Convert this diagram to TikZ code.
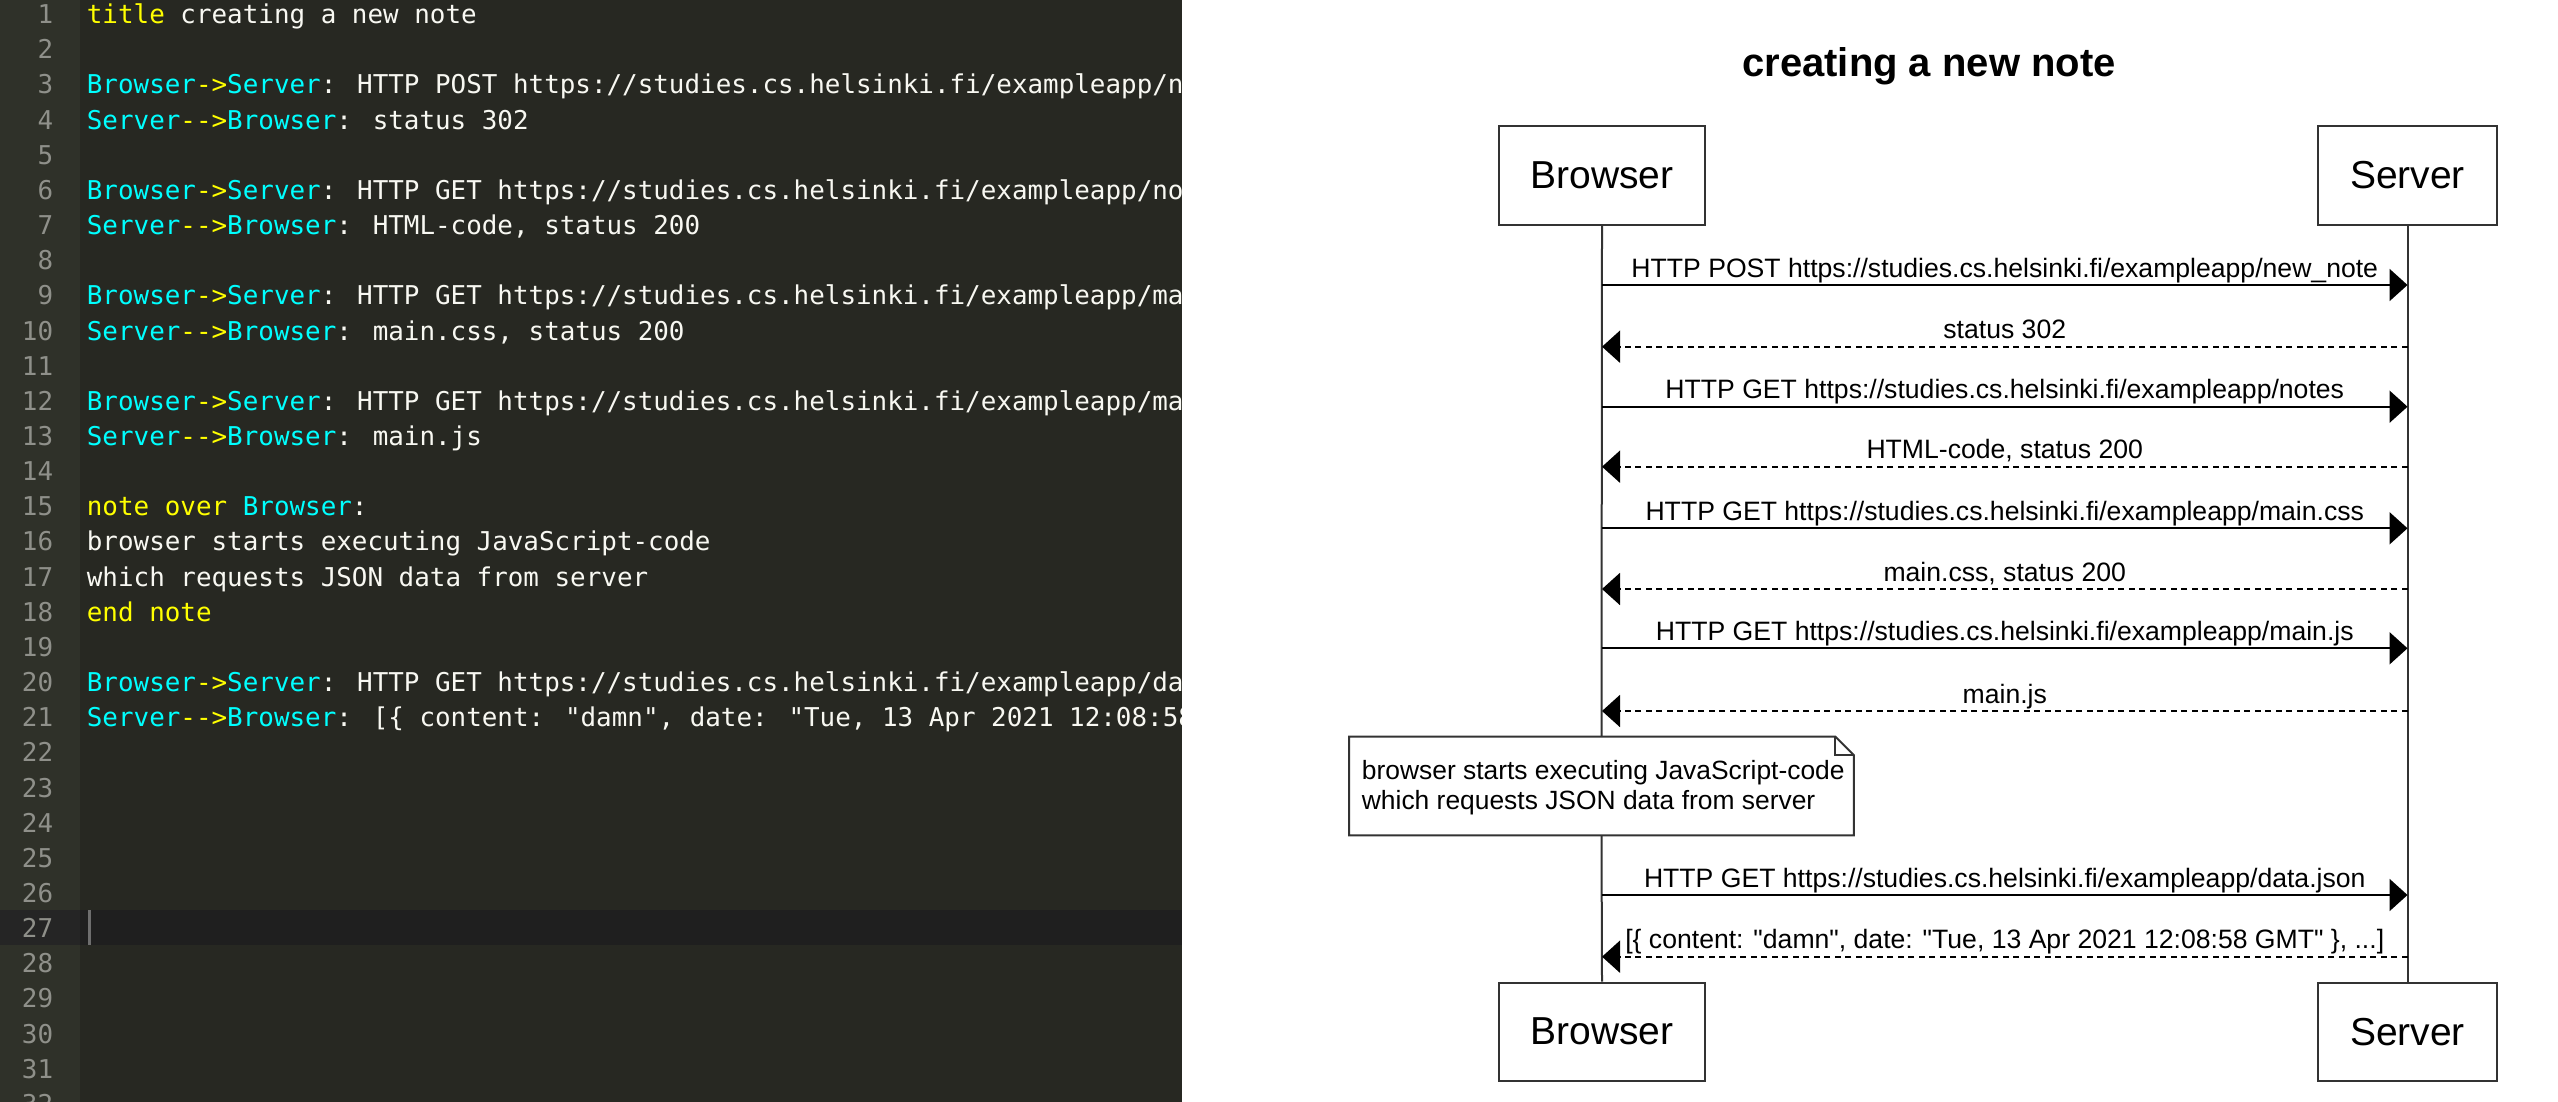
\documentclass[tikz,border=0pt]{standalone}
\usepackage{fontspec}
\usetikzlibrary{arrows.meta}
\newfontfamily\monof{DejaVu Sans Mono}[Ligatures=TeXOff]
\newfontfamily\arialf{Liberation Sans}
\definecolor{edbg}{HTML}{272822}
\definecolor{gutbg}{HTML}{2F3129}
\definecolor{curbg}{HTML}{1F1F1F}
\definecolor{curgut}{HTML}{252525}
\definecolor{lnum}{HTML}{8F908A}
\definecolor{txtw}{HTML}{F8F8F2}
\definecolor{kwyel}{HTML}{FFFF00}
\definecolor{accyan}{HTML}{00FFFF}
\definecolor{boxc}{HTML}{333333}
\definecolor{cursorc}{HTML}{6E6E6E}
\newcommand\KW[1]{\textcolor{kwyel}{#1}}
\newcommand\AC[1]{\textcolor{accyan}{#1}}
\newcommand\codeln[2]{\node[code] (cl#1) at (86.5,{23.7+35.15*(#1-1)}) {#2};}
\begin{document}
\begin{tikzpicture}[x=0.5pt,y=-0.5pt,
  code/.style={font=\monof\fontsize{12.95}{15}\selectfont, text=txtw, anchor=base west, inner sep=0pt},
  lno/.style={font=\monof\fontsize{12.95}{15}\selectfont, text=lnum, anchor=base east, inner sep=0pt},
  actor/.style={draw=boxc, line width=1pt, fill=white, minimum height=49pt, inner sep=0pt,
    font=\arialf\fontsize{19.5}{22}\selectfont},
  life/.style={draw=boxc, line width=1pt},
  msg/.style={draw=black, line width=1pt, -{Triangle[length=9pt,width=16pt]}},
  reply/.style={msg, dash pattern=on 3pt off 2.25pt},
  lbl/.style={font=\arialf\fontsize{13.3}{15}\selectfont, anchor=base, inner sep=0pt, midway, yshift=4pt},
  notetxt/.style={font=\arialf\fontsize{13.2}{15}\selectfont, align=left, inner sep=0pt, anchor=west},
  titletxt/.style={font=\arialf\bfseries\fontsize{20}{24}\selectfont, anchor=base, inner sep=0pt}
]
\useasboundingbox (0,0) rectangle (2558,1102);
\begin{scope}
\clip (0,0) rectangle (2558,1102);
% ---------- editor panel ----------
\fill[edbg] (0,0) rectangle (1182,1102);
\fill[gutbg] (0,0) rectangle (80,1102);
\fill[curbg] (80,910) rectangle (1182,945);
\fill[curgut] (0,910) rectangle (80,945);
\fill[cursorc] (87.5,910) rectangle (90.5,945);
\foreach \n in {1,...,32} {
  \node[lno] (ln\n) at (53.5,{23.7+35.15*(\n-1)}) {\n};
}
\begin{scope}
\clip (80,0) rectangle (1182,1102);
\codeln{1}{\KW{title} creating a new note}
\codeln{3}{\AC{Browser}\KW{->}\AC{Server}: HTTP POST https://studies.cs.helsinki.fi/exampleapp/new\_note}
\codeln{4}{\AC{Server}\KW{-->}\AC{Browser}: status 302}
\codeln{6}{\AC{Browser}\KW{->}\AC{Server}: HTTP GET https://studies.cs.helsinki.fi/exampleapp/notes}
\codeln{7}{\AC{Server}\KW{-->}\AC{Browser}: HTML-code, status 200}
\codeln{9}{\AC{Browser}\KW{->}\AC{Server}: HTTP GET https://studies.cs.helsinki.fi/exampleapp/main.css}
\codeln{10}{\AC{Server}\KW{-->}\AC{Browser}: main.css, status 200}
\codeln{12}{\AC{Browser}\KW{->}\AC{Server}: HTTP GET https://studies.cs.helsinki.fi/exampleapp/main.js}
\codeln{13}{\AC{Server}\KW{-->}\AC{Browser}: main.js}
\codeln{15}{\KW{note over} \AC{Browser}:}
\codeln{16}{browser starts executing JavaScript-code}
\codeln{17}{which requests JSON data from server}
\codeln{18}{\KW{end note}}
\codeln{20}{\AC{Browser}\KW{->}\AC{Server}: HTTP GET https://studies.cs.helsinki.fi/exampleapp/data.json}
\codeln{21}{\AC{Server}\KW{-->}\AC{Browser}: [\{ content: "damn", date: "Tue, 13 Apr 2021 12:08:58 GMT" \}, ...]}
\end{scope}
% ---------- diagram panel ----------
\fill[white] (1182,0) rectangle (2558,1102);
\node[titletxt] (title) at (1929,77) {creating a new note};
\node[actor, minimum width=103pt] (bt) at (1602,175.5) {Browser};
\node[actor, minimum width=89.5pt] (st) at (2407.5,175.5) {Server};
\node[actor, minimum width=103pt] (bb) at (1602,1031.7) {Browser};
\node[actor, minimum width=89.5pt] (sb) at (2407.5,1031.7) {Server};
\node[minimum width=252pt, minimum height=49pt, inner sep=0pt] (nt) at (1601.5,786) {};
\draw[life] (bt.south) -- (nt.north);
\draw[life] (nt.south) -- (bb.north);
\draw[life] (st.south) -- (sb.north);
\draw[boxc, line width=1pt, fill=white]
  (nt.north west) -- ([xshift=-9.25pt]nt.north east) -- ([yshift=-9.25pt]nt.north east)
  -- (nt.south east) -- (nt.south west) -- cycle;
\draw[boxc, line width=1pt] ([xshift=-9.25pt]nt.north east) -- ([xshift=-9.25pt,yshift=-9.25pt]nt.north east)
  -- ([yshift=-9.25pt]nt.north east);
\node[notetxt] (ntext) at ([xshift=6.2pt,yshift=-1pt]nt.west)
  {browser starts executing JavaScript-code\\which requests JSON data from server};
\draw[msg] (bt |- 0,285) -- node[lbl] (l1) {HTTP POST https://studies.cs.helsinki.fi/exampleapp/new\_note} (st |- 0,285);
\draw[reply] (st |- 0,346.7) -- node[lbl] (l2) {status 302} (bt |- 0,346.7);
\draw[msg] (bt |- 0,406.7) -- node[lbl] (l3) {HTTP GET https://studies.cs.helsinki.fi/exampleapp/notes} (st |- 0,406.7);
\draw[reply] (st |- 0,466.7) -- node[lbl] (l4) {HTML-code, status 200} (bt |- 0,466.7);
\draw[msg] (bt |- 0,528.3) -- node[lbl] (l5) {HTTP GET https://studies.cs.helsinki.fi/exampleapp/main.css} (st |- 0,528.3);
\draw[reply] (st |- 0,589) -- node[lbl] (l6) {main.css, status 200} (bt |- 0,589);
\draw[msg] (bt |- 0,648.3) -- node[lbl] (l7) {HTTP GET https://studies.cs.helsinki.fi/exampleapp/main.js} (st |- 0,648.3);
\draw[reply] (st |- 0,711) -- node[lbl] (l8) {main.js} (bt |- 0,711);
\draw[msg] (bt |- 0,895) -- node[lbl] (l9) {HTTP GET https://studies.cs.helsinki.fi/exampleapp/data.json} (st |- 0,895);
\draw[reply] (st |- 0,956.7) -- node[lbl] (l10) {[\{ content: "damn", date: "Tue, 13 Apr 2021 12:08:58 GMT" \}, ...]} (bt |- 0,956.7);
\end{scope}
\end{tikzpicture}
\end{document}
